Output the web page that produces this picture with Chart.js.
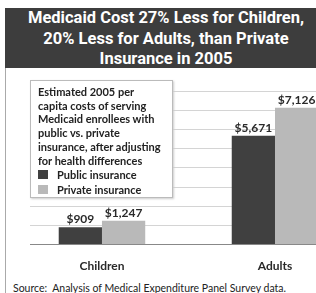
<!DOCTYPE html>
<html>
<head>
<meta charset="utf-8">
<script src="https://cdn.jsdelivr.net/npm/chart.js@4"></script>
<style>
  html, body { margin: 0; padding: 0; background: #fff; }
  body { width: 316px; height: 293px; position: relative; overflow: hidden; font-family: Lato, sans-serif; }
  #title {
    position: absolute; left: 5px; top: 8px; width: 322px; height: 60px;
    background: #3d3d3d; color: #fff; text-align: center;
    font: bold 16.5px Roboto, sans-serif; line-height: 20.5px; padding-top: 0px;
  }
  #frame { position: absolute; left: 5px; top: 68px; width: 0; height: 230px; border-left: 1px solid #aaa; }
  #wrap { position: absolute; left: 0; top: 70px; width: 316px; height: 209px; }
  #legendBox {
    position: absolute; left: 30px; top: 80px; width: 134px; height: 112px;
    background: #fff; border: 1px solid #bbb; box-shadow: 1px 1px 2px #ccc;
    padding: 4px 0 0 7px; font: bold 11px Lato, sans-serif; color: #222; line-height: 13.7px;
  }
  #legendBox .item { display: flex; align-items: center; line-height: 15px; }
  #legendBox .sw { width: 10px; height: 9px; margin-right: 9px; }
  #source { position: absolute; left: 13px; top: 282px; font: 10.5px Lato, sans-serif; color: #222; white-space: nowrap; }
</style>
</head>
<body>
<div id="title">Medicaid Cost 27% Less for Children,<br>20% Less for Adults, than Private<br>Insurance in 2005</div>
<div id="frame"></div>
<div id="wrap"><canvas id="myChart"></canvas></div>
<div id="legendBox"></div>
<div id="source">Source:&nbsp; Analysis of Medical Expenditure Panel Survey data.</div>
<script>
var categories = ['Children', 'Adults'];
var seriesNames = ['Public insurance', 'Private insurance'];
var publicCost = [909, 5671];
var privateCost = [1247, 7126];
var noteLines = ['Estimated 2005 per', 'capita costs of serving', 'Medicaid enrollees with',
                 'public vs. private', 'insurance, after adjusting', 'for health differences'];

function money(v) { return '$' + v.toLocaleString('en-US'); }

// value labels above each bar
var valueLabels = {
    id: 'valueLabels',
    afterDatasetsDraw: function (chart) {
        var ctx = chart.ctx;
        ctx.save();
        ctx.font = 'bold 12px Lato, sans-serif';
        ctx.fillStyle = '#2a2a2a';
        ctx.textAlign = 'center';
        ctx.textBaseline = 'bottom';
        chart.data.datasets.forEach(function (ds, i) {
            chart.getDatasetMeta(i).data.forEach(function (bar, j) {
                ctx.fillText(money(ds.data[j].y), bar.x, bar.y - 2);
            });
        });
        ctx.restore();
    }
};

var ctx = document.getElementById('myChart').getContext('2d');
var myChart = new Chart(ctx, {
    type: 'bar',
    data: {
        datasets: [{
            label: seriesNames[0],
            data: publicCost.map(function (v, i) { return { x: i, y: v }; }),
            backgroundColor: '#404040'
        }, {
            label: seriesNames[1],
            data: privateCost.map(function (v, i) { return { x: i, y: v }; }),
            backgroundColor: '#b9b9b9'
        }]
    },
    options: {
        responsive: true,
        maintainAspectRatio: false,
        animation: false,
        categoryPercentage: 0.5,
        barPercentage: 1.0,
        layout: { padding: { left: 30, top: 21, right: 0, bottom: 0 } },
        plugins: { legend: { display: false }, tooltip: { enabled: false } },
        scales: {
            x: {
                type: 'linear',
                offset: false,
                min: -0.416,
                max: 1.237,
                afterBuildTicks: function (scale) {
                    scale.ticks = categories.map(function (c, i) { return { value: i }; });
                },
                ticks: {
                    callback: function (v) { return categories[v]; },
                    font: { family: 'Lato', size: 12, weight: 'bold' },
                    color: '#2a2a2a',
                    padding: 6,
                    maxRotation: 0
                },
                grid: { display: false, offset: false },
                border: { display: true, color: '#888' }
            },
            y: {
                min: 0,
                max: 8000,
                ticks: { display: false, stepSize: 1000 },
                grid: { color: '#d4d4d4', drawTicks: false },
                border: { display: false }
            }
        }
    },
    plugins: [valueLabels]
});

// note box with legend items taken from the chart's datasets
var box = document.getElementById('legendBox');
box.innerHTML = noteLines.join('<br>');
myChart.data.datasets.forEach(function (ds) {
    var d = document.createElement('div');
    d.className = 'item';
    d.innerHTML = '<span class="sw" style="background:' + ds.backgroundColor + '"></span>' + ds.label;
    box.appendChild(d);
});
box.children[0].style.marginTop = '4px';
</script>
</body>
</html>
